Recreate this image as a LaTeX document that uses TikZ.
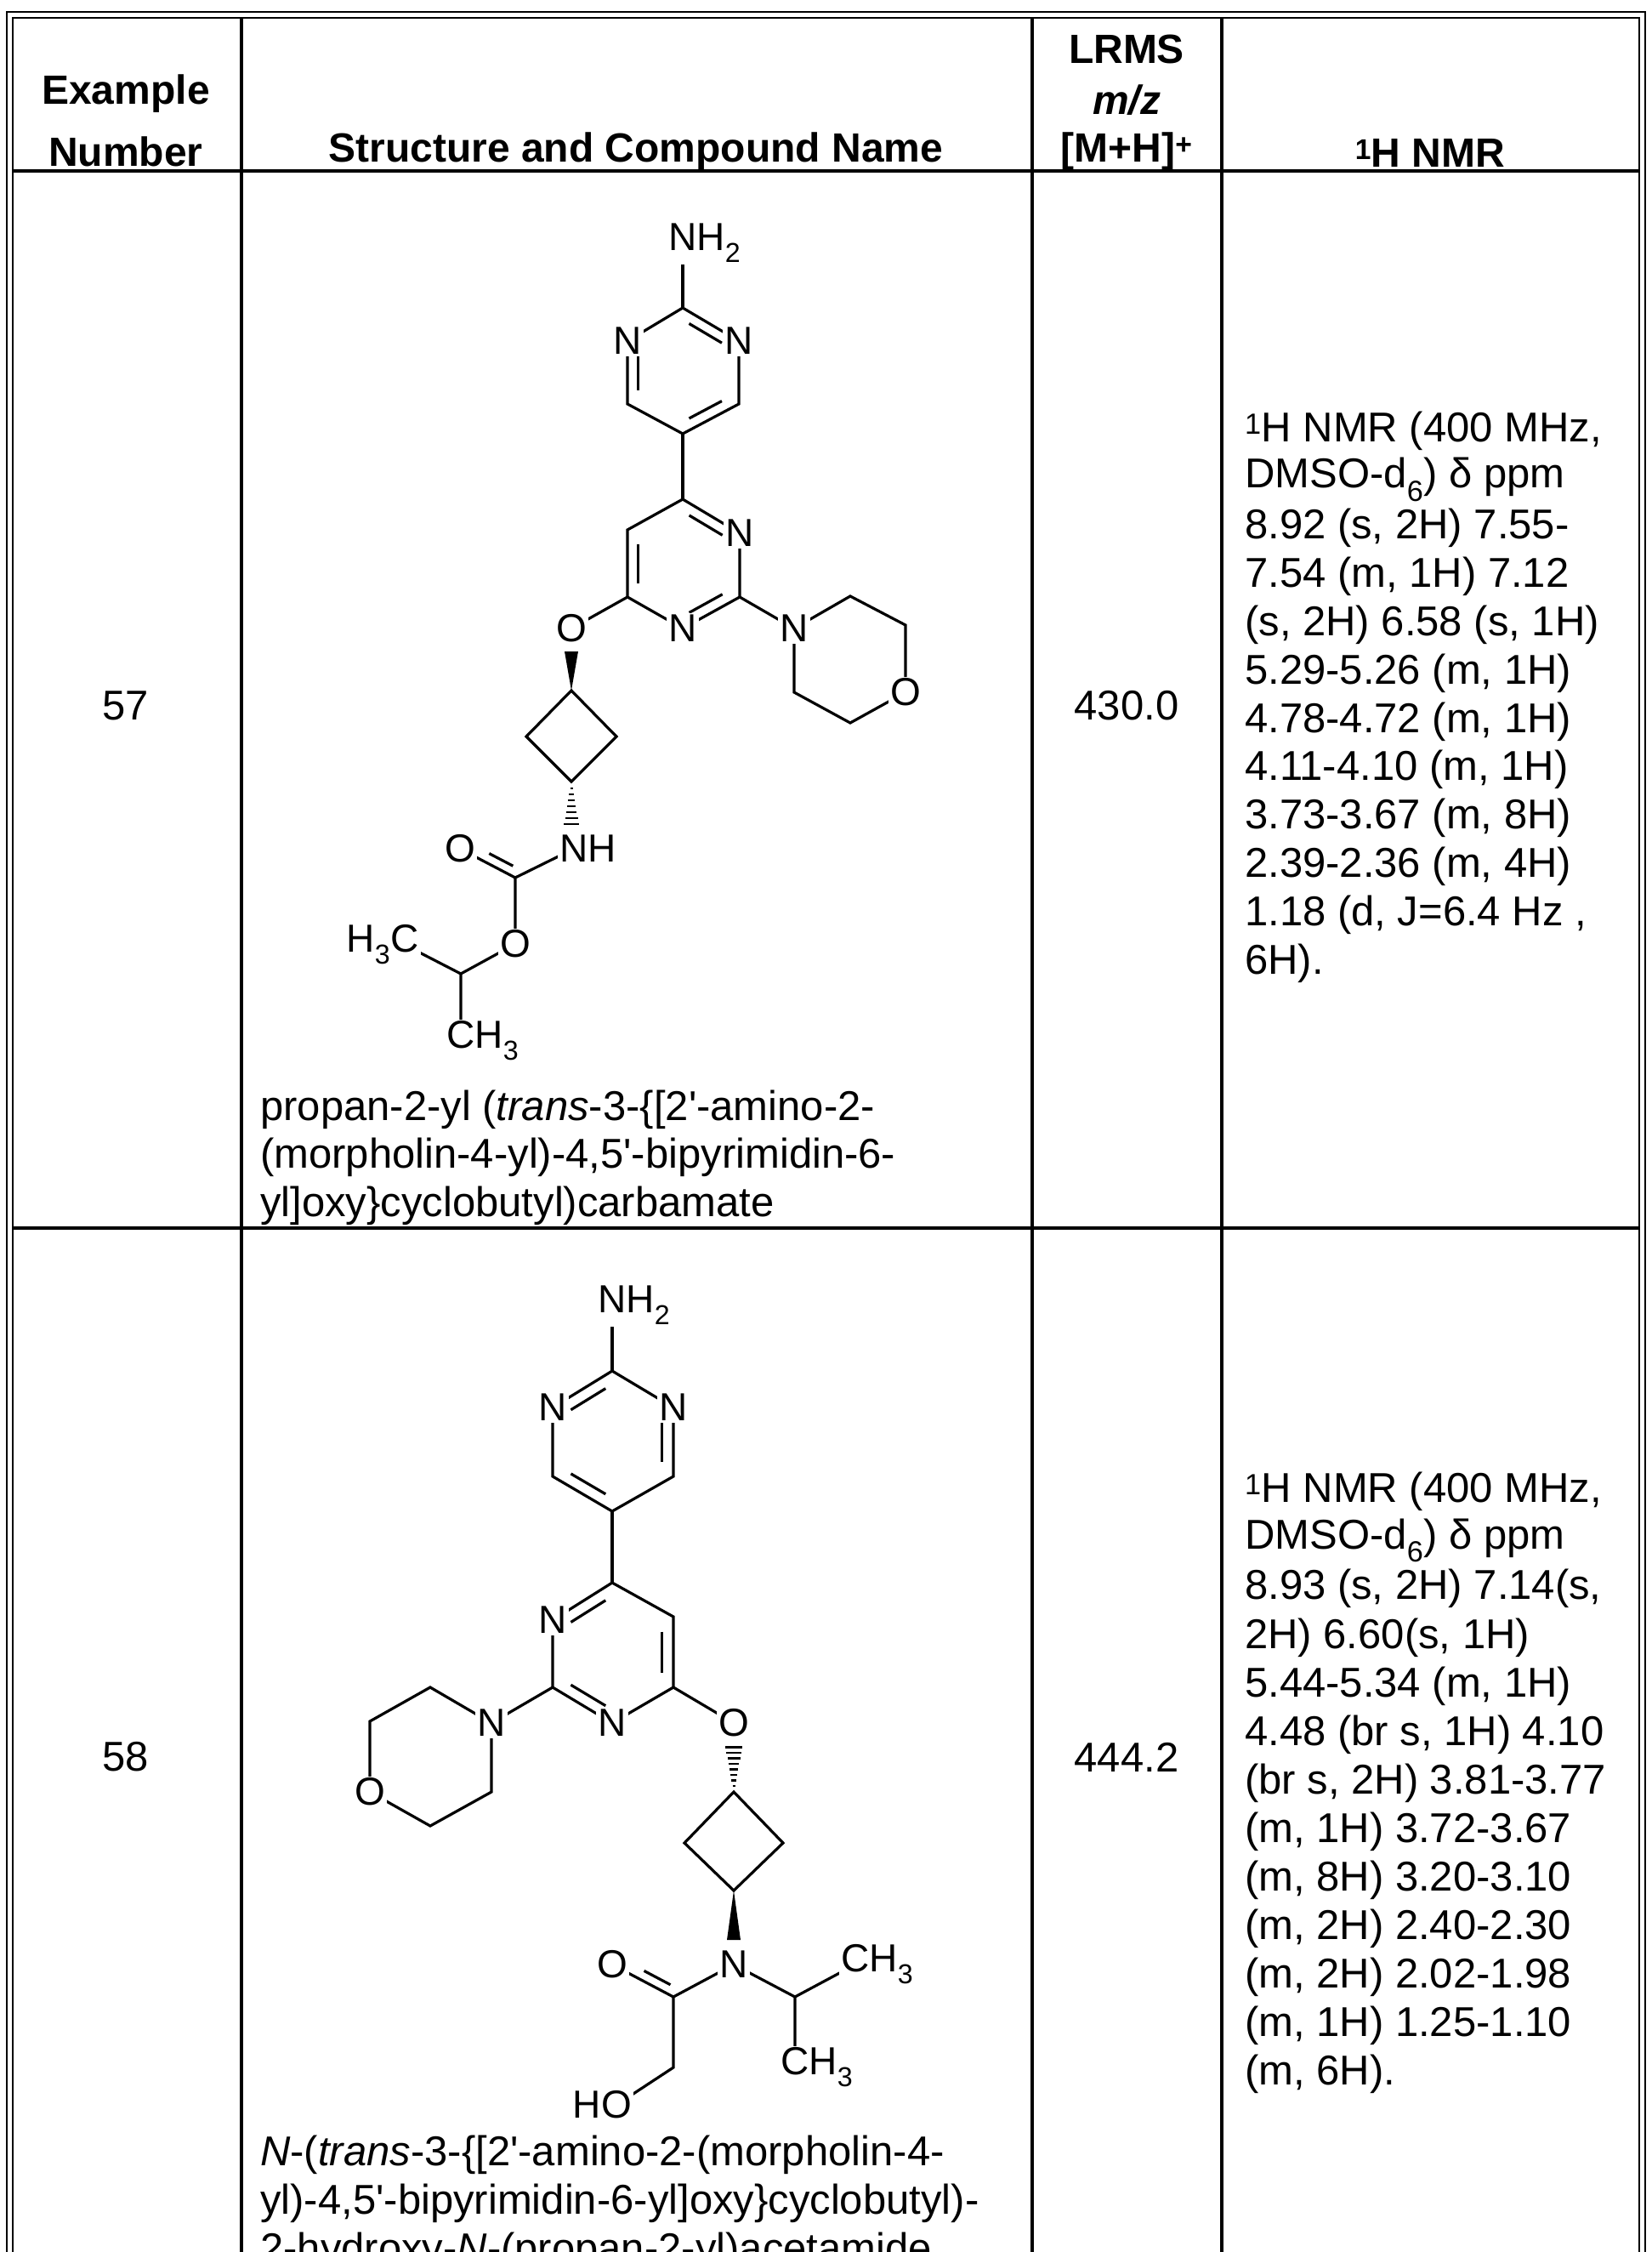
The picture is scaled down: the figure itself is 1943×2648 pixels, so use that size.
\documentclass[tikz,border=0pt]{standalone}
\usepackage{fontspec}
\setmainfont{Liberation Sans}
\usetikzlibrary{calc}
\newcommand\q{\textquotesingle}
\begin{document}
\begin{tikzpicture}[x=1pt,y=-1pt,
  bond/.style={line width=3.2pt},
  tl/.style={line width=3.6pt},
  atm/.style={fill=white,inner sep=2pt,font=\fontsize{46}{50}\selectfont},
  hd/.style={font=\bfseries\fontsize{48}{56}\selectfont},
  tx/.style={anchor=west,inner sep=0pt,font=\fontsize{49}{57}\selectfont},
  cc/.style={inner sep=0pt,font=\fontsize{49}{57}\selectfont}]
\newcommand\dbl[3]{\path ($(#1)!.19!(#3)$) coordinate (tmpa) ($(#2)!.19!(#3)$) coordinate (tmpb);
  \draw[bond] ($(tmpa)!.14!(tmpb)$) -- ($(tmpb)!.14!(tmpa)$);}
\useasboundingbox (0,0) rectangle (1943,2648);
\clip (0,0) rectangle (1943,2648);
\fill[white] (0,0) rectangle (1943,2648);
% table
\draw[line width=2.5pt] (8,2660) -- (8,14) -- (1935,14) -- (1935,2660);
\draw[line width=2.5pt] (15,2660) -- (15,21) -- (1928,21) -- (1928,2660);
\draw[line width=4.5pt] (15,201) -- (1928,201);
\draw[tl] (15,1444) -- (1928,1444);
\foreach \x in {284,1214,1437} \draw[tl] (\x,21) -- (\x,2660);
% header
\node[hd] (h1) at (148,110) {Example};
\node[hd] (h2) at (148,178) {Number};
\node[hd] (h3) at (748,178) {Structure and Compound Name};
\node[hd] (h4) at (1325,58) {LRMS};
\node[hd] (h5) at (1325,118) {\itshape m/z};
\node[hd] (h6) at (1325,178) {[M+H]\textsuperscript{+}};
\node[hd] (h7) at (1682,180) {\textsuperscript{1}H NMR};
% row 57
\node[cc] (n57) at (148,830) {57};
\node[cc] (m57) at (1325,830) {430.0};
\foreach \t [count=\i from 0] in {\textsuperscript{1}H NMR (400 MHz{,},DMSO-d\textsubscript{6}) δ ppm,8.92 (s{,} 2H) 7.55-,7.54 (m{,} 1H) 7.12,(s{,} 2H) 6.58 (s{,} 1H),5.29-5.26 (m{,} 1H),4.78-4.72 (m{,} 1H),4.11-4.10 (m{,} 1H),3.73-3.67 (m{,} 8H),2.39-2.36 (m{,} 4H),1.18 (d{,} J=6.4 Hz {,},6H).}
  \node[tx] at (1464,507+56.9*\i) {\t};
\node[tx] (nm1) at (306,1305) {propan-2-yl (\textit{trans}-3-\{[2\q-amino-2-};
\node[tx] (nm2) at (306,1361) {(morpholin-4-yl)-4,5\q-bipyrimidin-6-};
\node[tx] (nm3) at (306,1418) {yl]oxy\}cyclobutyl)carbamate};
% molecule 1
\coordinate (a1) at (803,286);
\coordinate (a2) at (803,362);
\coordinate (a3) at (869,401);
\coordinate (a4) at (869,475);
\coordinate (a5) at (803,510);
\coordinate (a6) at (738,475);
\coordinate (a7) at (738,401);
\coordinate (ac) at (803,436);
\coordinate (b1) at (803,587);
\coordinate (b2) at (870,627);
\coordinate (b3) at (870,702);
\coordinate (b4) at (803,739);
\coordinate (b5) at (738,702);
\coordinate (b6) at (738,623);
\coordinate (bc) at (803,663);
\coordinate (bo) at (672,739);
\coordinate (m1) at (934,739);
\coordinate (m2) at (1000,701);
\coordinate (m3) at (1065,735);
\coordinate (m4) at (1065,814);
\coordinate (m5) at (1000,850);
\coordinate (m6) at (934,814);
\coordinate (c1) at (672,812);
\coordinate (c2) at (619,866);
\coordinate (c3) at (725,866);
\coordinate (c4) at (672,919);
\coordinate (nh) at (675,998);
\coordinate (k1) at (606,1032);
\coordinate (k2) at (541,998);
\coordinate (k3) at (606,1110);
\coordinate (k4) at (542,1145);
\coordinate (k5) at (476,1111);
\coordinate (k6) at (542,1224);
\draw[bond] (a1)--(a2);
\draw[bond] (a2)--(a3)--(a4)--(a5)--(a6)--(a7)--cycle;
\dbl{a2}{a3}{ac} \dbl{a7}{a6}{ac} \dbl{a4}{a5}{ac}
\draw[bond] (a5)--(b1);
\draw[bond] (b1)--(b2)--(b3)--(b4)--(b5)--(b6)--cycle;
\dbl{b1}{b2}{bc} \dbl{b3}{b4}{bc} \dbl{b5}{b6}{bc}
\draw[bond] (b5)--(bo);
\draw[bond] (b3)--(m1);
\draw[bond] (m1)--(m2)--(m3)--(m4)--(m5)--(m6)--cycle;
\draw[bond] (c1)--(c2)--(c4)--(c3)--cycle;
\fill (c1) -- ($(c1)+(-8,-46)$) -- ($(c1)+(8,-46)$) -- cycle;
\foreach \i in {0,...,6} \draw[line width=2.4pt] ($(c4)+(-1.5-1.2*\i,8+7*\i)$) -- ($(c4)+(1.5+1.2*\i,8+7*\i)$);
\draw[bond] (nh)--(k1)--(k3)--(k4)--(k5) (k4)--(k6);
\draw[bond] (k1)--(k2);
\draw[bond] ($(k1)!.12!(k2)!11pt!-90:(k2)$) -- ($(k2)!.45!(k1)!11pt!90:(k1)$);
\node[atm] (la1) at (a1) {N\rlap{H\textsubscript{2}}};
\node[atm] (la3) at (a3) {N};
\node[atm] (la7) at (a7) {N};
\node[atm] (lb2) at (b2) {N};
\node[atm] (lb4) at (b4) {N};
\node[atm] (lbo) at (bo) {O};
\node[atm] (lm1) at (m1) {N};
\node[atm] (lm4) at (m4) {O};
\node[atm] (lnh) at (nh) {N\rlap{H}};
\node[atm] (lk2) at (k2) {O};
\node[atm] (lk3) at (k3) {O};
\node[atm] (lk5) at (k5) {\llap{H\textsubscript{3}}C};
\node[atm] (lk6) at (k6) {C\rlap{H\textsubscript{3}}};
% row 58
\node[cc] (n58) at (148,2066) {58};
\node[cc] (m58) at (1325,2066) {444.2};
\foreach \t [count=\i from 0] in {\textsuperscript{1}H NMR (400 MHz{,},DMSO-d\textsubscript{6}) δ ppm,8.93 (s{,} 2H) 7.14(s{,},2H) 6.60(s{,} 1H),5.44-5.34 (m{,} 1H),4.48 (br s{,} 1H) 4.10,(br s{,} 2H) 3.81-3.77,(m{,} 1H) 3.72-3.67,(m{,} 8H) 3.20-3.10,(m{,} 2H) 2.40-2.30,(m{,} 2H) 2.02-1.98,(m{,} 1H) 1.25-1.10,(m{,} 6H).}
  \node[tx] at (1464,1754+57.1*\i) {\t};
\node[tx] (np1) at (306,2534) {\textit{N}-(\textit{trans}-3-\{[2\q-amino-2-(morpholin-4-};
\node[tx] (np2) at (306,2591) {yl)-4,5\q-bipyrimidin-6-yl]oxy\}cyclobutyl)-};
\node[tx] (np3) at (306,2648) {2-hydroxy-\textit{N}-(propan-2-yl)acetamide};
% molecule 2
\coordinate (d1) at (720,1535);
\coordinate (d2) at (720,1612);
\coordinate (d3) at (792,1655);
\coordinate (d4) at (792,1736);
\coordinate (d5) at (720,1777);
\coordinate (d6) at (650,1736);
\coordinate (d7) at (650,1655);
\coordinate (dc) at (721,1695);
\coordinate (e1) at (720,1861);
\coordinate (e2) at (792,1901);
\coordinate (e3) at (792,1984);
\coordinate (e4) at (720,2026);
\coordinate (e5) at (650,1984);
\coordinate (e6) at (650,1905);
\coordinate (ec) at (721,1944);
\coordinate (eo) at (863,2026);
\coordinate (p1) at (578,2026);
\coordinate (p2) at (506,1984);
\coordinate (p3) at (435,2024);
\coordinate (p4) at (435,2107);
\coordinate (p5) at (506,2147);
\coordinate (p6) at (578,2107);
\coordinate (f1) at (863,2107);
\coordinate (f2) at (805,2167);
\coordinate (f3) at (921,2167);
\coordinate (f4) at (863,2223);
\coordinate (g1) at (863,2310);
\coordinate (g2) at (792,2348);
\coordinate (g3) at (720,2310);
\coordinate (g4) at (792,2431);
\coordinate (g5) at (725,2475);
\coordinate (g6) at (935,2348);
\coordinate (g7) at (1006,2310);
\coordinate (g8) at (935,2431);
\draw[bond] (d1)--(d2);
\draw[bond] (d2)--(d3)--(d4)--(d5)--(d6)--(d7)--cycle;
\dbl{d2}{d7}{dc} \dbl{d3}{d4}{dc} \dbl{d6}{d5}{dc}
\draw[bond] (d5)--(e1);
\draw[bond] (e1)--(e2)--(e3)--(e4)--(e5)--(e6)--cycle;
\dbl{e1}{e6}{ec} \dbl{e2}{e3}{ec} \dbl{e5}{e4}{ec}
\draw[bond] (e3)--(eo);
\draw[bond] (e5)--(p1);
\draw[bond] (p1)--(p2)--(p3)--(p4)--(p5)--(p6)--cycle;
\draw[bond] (f1)--(f2)--(f4)--(f3)--cycle;
\foreach \i in {0,...,7} \draw[line width=2.4pt] ($(f1)+(-1.5-1.2*\i,-7-6.5*\i)$) -- ($(f1)+(1.5+1.2*\i,-7-6.5*\i)$);
\fill (f4) -- ($(f4)+(-8,58)$) -- ($(f4)+(8,58)$) -- cycle;
\draw[bond] (g1)--(g2)--(g4)--(g5) (g1)--(g6)--(g7) (g6)--(g8);
\draw[bond] (g2)--(g3);
\draw[bond] ($(g2)!.12!(g3)!11pt!-90:(g3)$) -- ($(g3)!.45!(g2)!11pt!90:(g2)$);
\node[atm] (ld1) at (d1) {N\rlap{H\textsubscript{2}}};
\node[atm] (ld3) at (d3) {N};
\node[atm] (ld7) at (d7) {N};
\node[atm] (le4) at (e4) {N};
\node[atm] (le6) at (e6) {N};
\node[atm] (leo) at (eo) {O};
\node[atm] (lp1) at (p1) {N};
\node[atm] (lp4) at (p4) {O};
\node[atm] (lg1) at (g1) {N};
\node[atm] (lg3) at (g3) {O};
\node[atm] (lg5) at (g5) {\llap{H}O};
\node[atm] (lg7) at (g7) {C\rlap{H\textsubscript{3}}};
\node[atm] (lg8) at (g8) {C\rlap{H\textsubscript{3}}};
\end{tikzpicture}
\end{document}
